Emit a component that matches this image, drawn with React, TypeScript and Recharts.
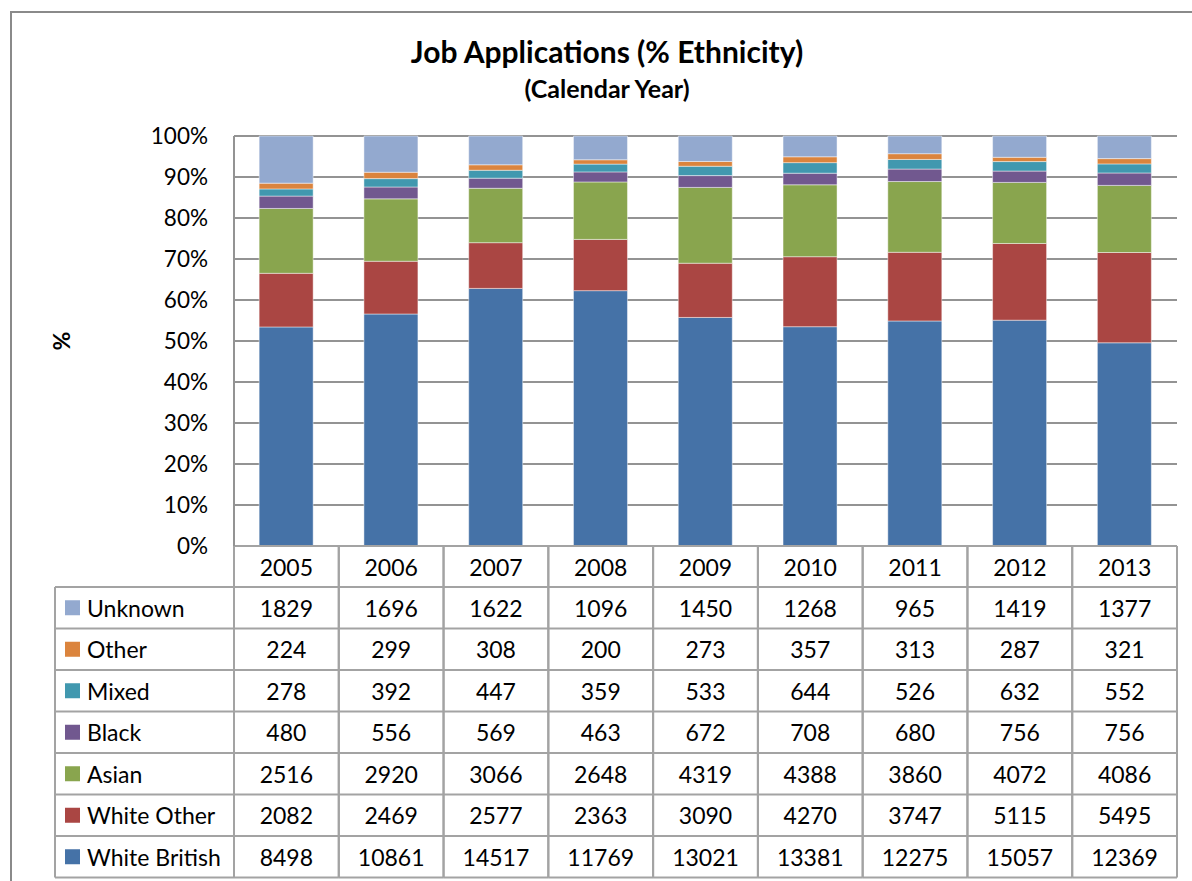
import { BarChart, Bar, XAxis, YAxis, CartesianGrid } from "recharts";

// ============[ DATA ]============
const years = ["2005", "2006", "2007", "2008", "2009", "2010", "2011", "2012", "2013"];

const whiteBritish = [8498, 10861, 14517, 11769, 13021, 13381, 12275, 15057, 12369];
const whiteOther = [2082, 2469, 2577, 2363, 3090, 4270, 3747, 5115, 5495];
const asian = [2516, 2920, 3066, 2648, 4319, 4388, 3860, 4072, 4086];
const black = [480, 556, 569, 463, 672, 708, 680, 756, 756];
const mixed = [278, 392, 447, 359, 533, 644, 526, 632, 552];
const other = [224, 299, 308, 200, 273, 357, 313, 287, 321];
const unknown = [1829, 1696, 1622, 1096, 1450, 1268, 965, 1419, 1377];

const yTicks = [0, 0.1, 0.2, 0.3, 0.4, 0.5, 0.6, 0.7, 0.8, 0.9, 1];

// stacking order, bottom to top
const series = [
  { key: "whiteBritish", name: "White British", color: "#4572A7", values: whiteBritish },
  { key: "whiteOther", name: "White Other", color: "#AA4643", values: whiteOther },
  { key: "asian", name: "Asian", color: "#89A54E", values: asian },
  { key: "black", name: "Black", color: "#71588F", values: black },
  { key: "mixed", name: "Mixed", color: "#4198AF", values: mixed },
  { key: "other", name: "Other", color: "#DB843D", values: other },
  { key: "unknown", name: "Unknown", color: "#93A9CF", values: unknown },
];

// table rows, top to bottom
const tableRows = [...series].reverse();

const data = years.map((year, i) => {
  const row: Record<string, string | number> = { year };
  series.forEach((s) => {
    row[s.key] = s.values[i];
  });
  return row;
});

// ============[ LAYOUT ]============
const FONT = "Lato, 'Open Sans', sans-serif";
const WIDTH = 1192;
const HEIGHT = 881;
const PLOT_LEFT = 234;
const PLOT_RIGHT = 1177;
const PLOT_TOP = 136;
const PLOT_BOTTOM = 546;
const PLOT_W = PLOT_RIGHT - PLOT_LEFT;
const HEADER_H = 41;
const ROW_H = 41.5;
const LABEL_W = 179;
const GRID = "#939393";
const TABLE_LINE = "#a3a3a3";
const TABLE_FS = 23;

// ============[ TABLE COLUMN (x-axis tick) ]============
const TableColumn = (props: any) => {
  const { x, y, payload } = props;
  const i = payload.index;
  const bw = PLOT_W / years.length;
  const left = x - bw / 2;
  const right = x + bw / 2;
  const bottom = y + HEADER_H + ROW_H * tableRows.length;

  return (
    <g>
      <line x1={left} x2={left} y1={y} y2={bottom} stroke={TABLE_LINE} strokeWidth={2} />
      <line x1={right} x2={right} y1={y} y2={bottom} stroke={TABLE_LINE} strokeWidth={2} />
      <text
        x={x}
        y={y + HEADER_H / 2}
        dominantBaseline="central"
        textAnchor="middle"
        fontSize={TABLE_FS}
        fill="#000"
        fontFamily={FONT}
      >
        {payload.value}
      </text>
      {tableRows.map((s, r) => {
        const top = y + HEADER_H + r * ROW_H;
        return (
          <g key={s.key}>
            <line x1={left} x2={right} y1={top} y2={top} stroke={TABLE_LINE} strokeWidth={2} />
            <text
              x={x}
              y={top + ROW_H / 2}
              dominantBaseline="central"
              textAnchor="middle"
              fontSize={TABLE_FS}
              fill="#000"
              fontFamily={FONT}
            >
              {s.values[i]}
            </text>
          </g>
        );
      })}
      <line x1={left} x2={right} y1={bottom} y2={bottom} stroke={TABLE_LINE} strokeWidth={2} />

      {i === 0 && (
        <g>
          <line x1={left - LABEL_W} x2={left - LABEL_W} y1={y + HEADER_H} y2={bottom} stroke={TABLE_LINE} strokeWidth={2} />
          {tableRows.map((s, r) => {
            const top = y + HEADER_H + r * ROW_H;
            return (
              <g key={s.key}>
                <line x1={left - LABEL_W} x2={left} y1={top} y2={top} stroke={TABLE_LINE} strokeWidth={2} />
                <rect x={left - LABEL_W + 10} y={top + ROW_H / 2 - 7.5} width={15} height={15} fill={s.color} />
                <text
                  x={left - LABEL_W + 32}
                  y={top + ROW_H / 2}
                  dominantBaseline="central"
                  textAnchor="start"
                  fontSize={TABLE_FS}
                  fill="#000"
                  fontFamily={FONT}
                >
                  {s.name}
                </text>
              </g>
            );
          })}
          <line x1={left - LABEL_W} x2={left} y1={bottom} y2={bottom} stroke={TABLE_LINE} strokeWidth={2} />
        </g>
      )}
    </g>
  );
};

export default function App() {
  return (
    <div
      style={{
        position: "absolute",
        left: 0,
        top: 0,
        width: WIDTH,
        height: HEIGHT,
        overflow: "hidden",
        background: "#fff",
        fontFamily: FONT,
      }}
    >
      {/* chart frame */}
      <div
        style={{
          position: "absolute",
          left: 10,
          top: 11,
          width: 1194,
          height: 900,
          border: "2px solid #8a8a8a",
          boxSizing: "border-box",
        }}
      />

      {/* ============[ TITLE ]============ */}
      <div
        style={{
          position: "absolute",
          left: 307,
          width: 600,
          top: 33,
          textAlign: "center",
          fontWeight: 700,
          fontSize: 30,
          lineHeight: "36px",
        }}
      >
        Job Applications (% Ethnicity)
      </div>
      <div
        style={{
          position: "absolute",
          left: 407,
          width: 400,
          top: 73,
          textAlign: "center",
          fontWeight: 700,
          fontSize: 25,
          lineHeight: "30px",
        }}
      >
        (Calendar Year)
      </div>

      {/* y-axis title */}
      <div
        style={{
          position: "absolute",
          left: 46,
          top: 326,
          width: 30,
          height: 30,
          lineHeight: "30px",
          textAlign: "center",
          fontWeight: 700,
          fontSize: 23,
          transform: "rotate(-90deg)",
        }}
      >
        %
      </div>

      <div style={{ position: "absolute", left: 0, top: 0 }}>
        <BarChart
          width={WIDTH}
          height={HEIGHT}
          data={data}
          stackOffset="expand"
          barCategoryGap="24%"
          margin={{ top: PLOT_TOP, right: WIDTH - PLOT_RIGHT, left: 0, bottom: 0 }}
        >
          <CartesianGrid vertical={false} stroke={GRID} strokeWidth={2} />
          <XAxis
            dataKey="year"
            height={HEIGHT - PLOT_BOTTOM}
            axisLine={{ stroke: TABLE_LINE, strokeWidth: 2 }}
            tickLine={false}
            tickSize={0}
            tickMargin={0}
            interval={0}
            tick={<TableColumn />}
          />
          <YAxis
            width={PLOT_LEFT}
            domain={[0, 1]}
            ticks={yTicks}
            tickFormatter={(v) => `${Math.round(v * 100)}%`}
            axisLine={{ stroke: GRID, strokeWidth: 2 }}
            tickLine={false}
            tickSize={0}
            tickMargin={26}
            tick={{ fontSize: 22.5, fill: "#000", fontFamily: FONT }}
          />
          {series.map((s) => (
            <Bar
              key={s.key}
              dataKey={s.key}
              name={s.name}
              stackId="a"
              fill={s.color}
              stroke="rgba(255,255,255,0.45)"
              strokeWidth={1}
              isAnimationActive={false}
            />
          ))}
        </BarChart>
      </div>
    </div>
  );
}
